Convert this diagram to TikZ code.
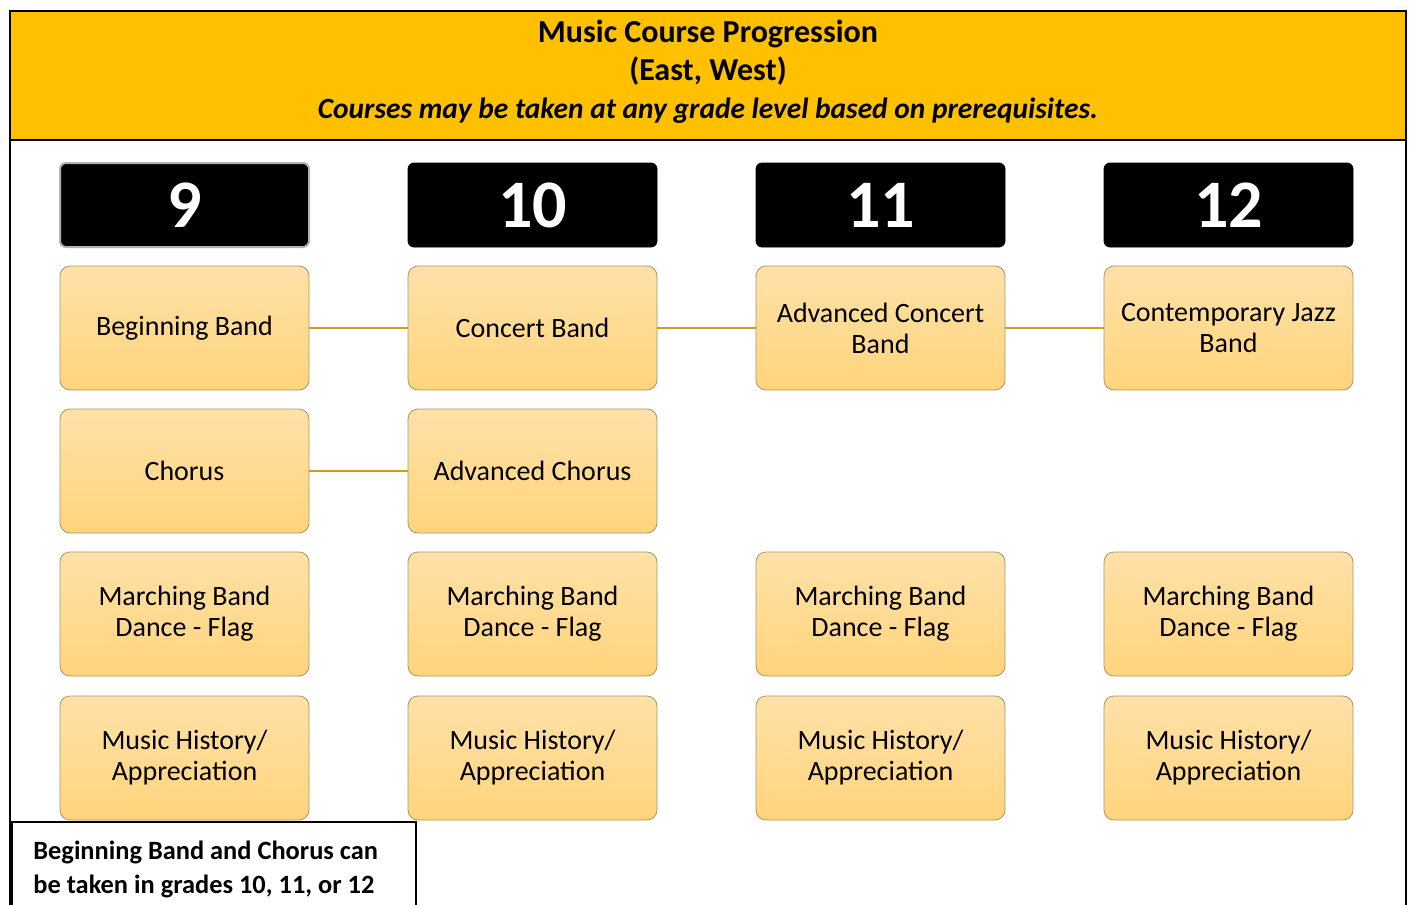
\documentclass[tikz,border=0pt]{standalone}
\usepackage{fontspec}
\setmainfont{Carlito}
\usetikzlibrary{positioning}

\definecolor{hdrgold}{HTML}{FFC000}
\definecolor{boxtop}{HTML}{FFE1A8}
\definecolor{boxbot}{HTML}{FFD47C}
\definecolor{boxline}{HTML}{A8956A}
\definecolor{linkgold}{HTML}{CC9E1E}

\tikzset{
  grade/.style={draw=black, fill=black, rounded corners=3pt, minimum width=124.5pt,
    minimum height=42pt, inner sep=0pt, outer sep=0pt, text=white,
    font=\fontsize{34}{36}\selectfont\bfseries},
  course/.style={draw=boxline, top color=boxtop, bottom color=boxbot, rounded corners=5pt,
    minimum width=124.5pt, minimum height=62pt, inner sep=0pt, outer sep=0pt, align=center,
    font=\fontsize{14}{15.5}\selectfont},
  link/.style={draw=linkgold, line width=0.9pt},
  notetext/.style={anchor=north west, align=left, inner xsep=10.5pt, inner ysep=9.5pt,
    font=\fontsize{13.2}{17}\selectfont\bfseries}
}

\begin{document}
\begin{tikzpicture}[x=0.5pt,y=-0.5pt]
	\useasboundingbox (0,0) rectangle (1410,905);
	\clip (0,0) rectangle (1410,905);
	% header band and frame
	\fill[hdrgold] (10,11) rectangle (1406,140);
	\draw[line width=1pt] (10,11) rectangle (1406,960);
	\draw[line width=1pt] (10,140) -- (1406,140);
	\node (title) at (708,72) [align=center, font=\fontsize{16}{19}\selectfont\bfseries]
		{Music Course Progression\\(East, West)\\\fontsize{14.7}{19}\selectfont\itshape Courses may be taken at any grade level based on prerequisites.};

	% grade headers
	\node (g9) [grade, draw=gray!60, line width=1pt] at (184.5,205) {9};
	\node (g10) [grade, right=49.5pt of g9] {10};
	\node (g11) [grade, right=49.5pt of g10] {11};
	\node (g12) [grade, right=49.5pt of g11] {12};

	% band / chorus
	\node (bb) [course, below=9.5pt of g9] {Beginning Band};
	\node (cb) [course, below=9.5pt of g10] {Concert Band};
	\node (acb) [course, below=9.5pt of g11] {Advanced Concert\\Band};
	\node (cjb) [course, below=9.5pt of g12] {Contemporary Jazz\\Band};
	\node (ch) [course, below=9.5pt of bb] {Chorus};
	\node (ach) [course, below=9.5pt of cb] {Advanced Chorus};

	% every grade
	\node (mb9) [course, below=9.5pt of ch] {Marching Band\\Dance - Flag};
	\node (mb10) [course, right=49.5pt of mb9] {Marching Band\\Dance - Flag};
	\node (mb11) [course, right=49.5pt of mb10] {Marching Band\\Dance - Flag};
	\node (mb12) [course, right=49.5pt of mb11] {Marching Band\\Dance - Flag};
	\node (mh9) [course, below=10pt of mb9] {Music History/\\Appreciation};
	\node (mh10) [course, right=49.5pt of mh9] {Music History/\\Appreciation};
	\node (mh11) [course, right=49.5pt of mh10] {Music History/\\Appreciation};
	\node (mh12) [course, right=49.5pt of mh11] {Music History/\\Appreciation};

	\draw[link] (bb) -- (cb);
	\draw[link] (cb) -- (acb);
	\draw[link] (acb) -- (cjb);
	\draw[link] (ch) -- (ach);

	% note
	\node (note) [notetext] at (12,822) {Beginning Band and Chorus can\\be taken in grades 10, 11, or 12};
	\draw[fill=white, line width=0.6pt] (note.north west) rectangle (416,930);
	\node [notetext] at (note.north west) {Beginning Band and Chorus can\\be taken in grades 10, 11, or 12};
\end{tikzpicture}
\end{document}
